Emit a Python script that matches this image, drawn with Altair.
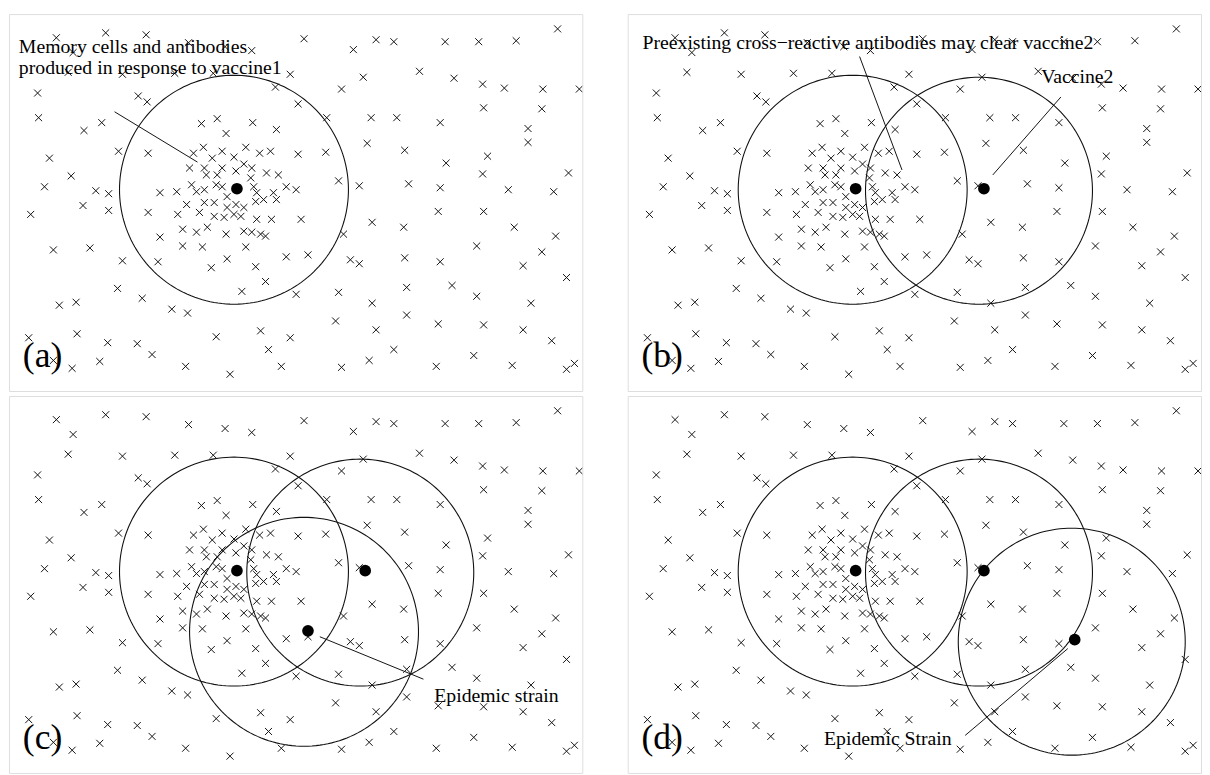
import altair as alt
import pandas as pd
import numpy as np

# ---- shared "x" marks (panel coordinates, y measured downward from the top frame) ----
outer_x = [48, 98, 139, 182, 219, 246, 299, 65, 60, 115, 168, 207, 285, 29, 131, 140, 270, 293,
           30, 76, 94, 41, 111, 141, 63, 36, 88, 101, 75, 101, 22, 141, 45, 82, 115, 151,
           110, 135, 51, 68, 165, 181, 20, 69, 100, 130, 145, 45, 64, 92, 179, 224,
           210, 255, 285, 263, 276]
outer_y = [24, 19, 21, 29, 33, 37, 25, 39, 59, 61, 60, 60, 61, 80, 83, 89, 74, 91,
           105, 118, 110, 146, 139, 141, 164, 175, 179, 182, 194, 199, 203, 201, 239, 237, 250, 251,
           278, 288, 295, 292, 299, 303, 328, 324, 333, 334, 345, 351, 359, 352, 357, 365,
           327, 321, 328, 340, 357]

cluster_x = [195, 211, 247, 271, 220,
             187, 197, 206, 216, 228, 240, 254, 265, 293,
             183, 198, 200, 211, 216, 230, 238, 246, 261, 273,
             185, 190, 198, 210, 216, 221, 245, 248, 251, 258, 268, 271, 281, 291,
             153, 170, 180, 171, 193, 198, 208, 208, 218, 221, 230, 228, 235, 238, 250, 251, 266, 296,
             176, 190, 201, 220, 238, 246, 255, 260,
             153, 176, 196, 240, 221, 205, 250, 260, 236, 281, 303, 291]
cluster_y = [111, 106, 110, 117, 121,
             141, 135, 146, 139, 145, 135, 141, 139, 142,
             156, 156, 163, 163, 156, 159, 152, 156, 161, 163,
             173, 180, 178, 173, 175, 185, 166, 175, 181, 188, 181, 188, 175, 178,
             181, 180, 193, 203, 201, 191, 191, 205, 206, 196, 193, 203, 205, 196, 190, 208, 208, 208,
             218, 221, 216, 223, 220, 221, 223, 225,
             226, 235, 236, 236, 248, 257, 256, 271, 281, 246, 244, 284]

right_x = [349, 372, 390, 442, 476, 514, 556,
           359, 416, 451, 480, 502, 541, 578, 337,
           322, 367, 393, 437, 481, 540, 526, 526,
           363, 401, 321, 443, 485, 480, 567,
           334, 355, 405, 437, 506, 552,
           368, 400, 435, 481, 512, 554, 339,
           346, 355, 401, 437, 474, 540, 521, 565,
           334, 368, 403, 449, 474, 529,
           331, 372, 403, 435, 481, 521, 550,
           390, 365, 337, 433, 471, 510, 565, 573]
right_y = [36, 26, 28, 28, 28, 27, 15,
           64, 58, 65, 71, 75, 76, 76, 76,
           105, 105, 105, 110, 95, 96, 116, 130,
           131, 138, 140, 151, 144, 162, 161,
           169, 174, 172, 176, 178, 180,
           211, 216, 200, 200, 216, 225, 223,
           249, 253, 247, 251, 235, 241, 255, 267,
           282, 293, 277, 275, 286, 293,
           311, 320, 305, 314, 315, 320, 331,
           340, 351, 358, 357, 346, 356, 360, 354]

# ---- strains (filled dots) and their cross-reactivity circles ----
dot_names = ["vaccine1", "vaccine2", "epidemic_c", "epidemic_d"]
dot_x = [231, 361, 303, 453]
dot_y = [177, 177, 238, 247]
circle_cx = [228, 356, 299, 450]
circle_cy = [178, 179, 239, 249]
circle_r = [116, 115, 116, 115]

# ---- annotation texts ----
ann_a_text = ["Memory cells and antibodies", "produced in response to vaccine1"]
ann_a_x = [10, 10]
ann_a_y = [39, 61]
ann_b_text = ["Preexisting cross\u2212reactive antibodies may clear vaccine2", "Vaccine2"]
ann_b_x = [15, 419]
ann_b_y = [35, 70]
ann_c_text = ["Epidemic strain"]
ann_c_x = [431]
ann_c_y = [310]
ann_d_text = ["Epidemic Strain"]
ann_d_x = [199]
ann_d_y = [354]

# leader lines: (x1, y1, x2, y2)
lead_a = [(107, 99, 191, 150)]
lead_b = [(235, 43, 278, 158), (439, 84, 370, 163)]
lead_c = [(315, 244, 420, 287)]
lead_d = [(342, 344, 446, 256)]

panel_labels = ["(a)", "(b)", "(c)", "(d)"]
label_x = 14
label_y = 358

W, H = 581, 382
INK = "#111111"
FONT = "Liberation Serif"

xs = alt.Scale(domain=[0, W], nice=False, zero=False)
ys = alt.Scale(domain=[0, H], nice=False, zero=False, reverse=True)

pts = pd.DataFrame({"x": outer_x + cluster_x + right_x,
                    "y": outer_y + cluster_y + right_y})

XSHAPE = "M-1,-1L1,1M-1,1L1,-1"


def circle_df(ids):
    rows = []
    for k in ids:
        t = np.linspace(0, 2 * np.pi, 181)
        for i, a in enumerate(t):
            rows.append({"cid": k, "i": i,
                         "x": circle_cx[k] + circle_r[k] * np.cos(a),
                         "y": circle_cy[k] + circle_r[k] * np.sin(a)})
    return pd.DataFrame(rows)


def panel(ids, texts, tx, ty, leads, label):
    X = alt.X("x:Q", scale=xs, axis=None)
    Y = alt.Y("y:Q", scale=ys, axis=None)
    layers = []
    layers.append(alt.Chart(pts).mark_point(shape=XSHAPE, size=50, filled=False,
                                            stroke=INK, strokeWidth=1.0, opacity=1, clip=True)
                  .encode(x=X, y=Y))
    layers.append(alt.Chart(circle_df(ids)).mark_line(color=INK, strokeWidth=1.1, clip=True)
                  .encode(x=X, y=Y, detail="cid:N", order="i:Q"))
    ldf = pd.DataFrame(leads, columns=["x", "y", "x2", "y2"])
    layers.append(alt.Chart(ldf).mark_rule(color=INK, strokeWidth=1.0, clip=True)
                  .encode(x=X, y=Y, x2="x2:Q", y2="y2:Q"))
    ddf = pd.DataFrame({"x": [dot_x[k] for k in ids], "y": [dot_y[k] for k in ids]})
    layers.append(alt.Chart(ddf).mark_circle(size=140, color="#000", opacity=1, clip=True)
                  .encode(x=X, y=Y))
    tdf = pd.DataFrame({"x": tx, "y": ty, "t": texts})
    layers.append(alt.Chart(tdf).mark_text(font=FONT, fontSize=20, align="left",
                                           baseline="alphabetic", color="#000")
                  .encode(x=X, y=Y, text="t:N"))
    labdf = pd.DataFrame({"x": [label_x], "y": [label_y], "t": [label]})
    layers.append(alt.Chart(labdf).mark_text(font=FONT, fontSize=36, align="left",
                                             baseline="alphabetic", color="#000")
                  .encode(x=X, y=Y, text="t:N"))
    return alt.layer(*layers).properties(width=W, height=H)


pa = panel([0], ann_a_text, ann_a_x, ann_a_y, lead_a, panel_labels[0])
pb = panel([0, 1], ann_b_text, ann_b_x, ann_b_y, lead_b, panel_labels[1])
pc = panel([0, 1, 2], ann_c_text, ann_c_x, ann_c_y, lead_c, panel_labels[2])
pd_ = panel([0, 1, 3], ann_d_text, ann_d_x, ann_d_y, lead_d, panel_labels[3])

chart = alt.vconcat(
    alt.hconcat(pa, pb, spacing=44),
    alt.hconcat(pc, pd_, spacing=44),
    spacing=3,
).properties(padding=0).configure_view(stroke="#333", strokeWidth=1.2).configure(background="white")

chart.save("out.html", embed_options={"renderer": "svg", "actions": False})
